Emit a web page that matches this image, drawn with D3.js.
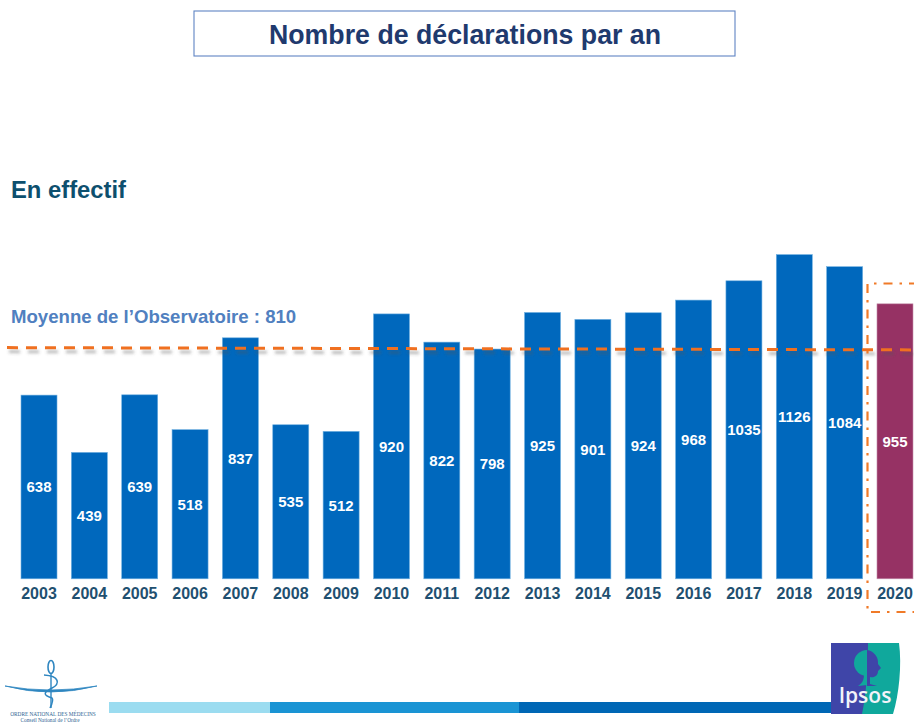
<!DOCTYPE html>
<html lang="fr">
<head>
<meta charset="utf-8">
<title>Nombre de déclarations par an</title>
<script src="https://cdn.jsdelivr.net/npm/d3@7/dist/d3.min.js"></script>
<style>
html,body{margin:0;padding:0;background:#fff;}
svg{display:block;}
text{font-family:"Liberation Sans",Arial,sans-serif;}
</style>
</head>
<body>
<svg id="chart" width="914" height="722"></svg>
<script>
const years = ["2003","2004","2005","2006","2007","2008","2009","2010","2011","2012","2013","2014","2015","2016","2017","2018","2019","2020"];
const declarations = [638,439,639,518,837,535,512,920,822,798,925,901,924,968,1035,1126,1084,955];
const highlightYear = "2020";
const averageLabel = "Moyenne de l’Observatoire : 810";
const averageLineLevels = [803,795];
const titleText = "Nombre de déclarations par an";
const subtitleText = "En effectif";

const svg = d3.select("#chart");
const x = d3.scaleBand().domain(years).range([13.83,920.17]).paddingInner(0.285).paddingOuter(0.1425);
const y = d3.scaleLinear().domain([0,1126]).range([578.8,254.6]);

const defs = svg.append("defs");
defs.append("filter").attr("id","blur").attr("x","-5%").attr("y","-400%").attr("width","110%").attr("height","900%")
  .append("feGaussianBlur").attr("stdDeviation",1.6);

// Title
svg.append("rect").attr("x",194).attr("y",11).attr("width",541).attr("height",45)
  .attr("fill","#fff").attr("stroke","#5f84c4").attr("stroke-width",1.1);
svg.append("text").attr("x",465).attr("y",44).attr("text-anchor","middle")
  .attr("font-size",28).attr("font-weight",700).attr("fill","#1f3a6e")
  .attr("textLength",392).attr("lengthAdjust","spacingAndGlyphs").text(titleText);
svg.append("text").attr("x",11).attr("y",198).attr("font-size",23.8).attr("font-weight",700)
  .attr("fill","#0d4f6e").text(subtitleText);

// Bars
const bars = svg.append("g");
bars.selectAll("rect").data(years).join("rect")
  .attr("x",d=>x(d)).attr("width",x.bandwidth())
  .attr("y",(d,i)=>y(declarations[i]))
  .attr("height",(d,i)=>y(0)-y(declarations[i]))
  .attr("fill",d=>d===highlightYear?"#963264":"#0068bd")
  .attr("stroke",d=>d===highlightYear?"#c48fab":"#6fb0e0").attr("stroke-width",0.6);

// Value labels
svg.append("g").selectAll("text").data(years).join("text")
  .attr("x",d=>x(d)+x.bandwidth()/2)
  .attr("y",(d,i)=>(y(declarations[i])+y(0))/2+5.5)
  .attr("text-anchor","middle").attr("font-size",15).attr("font-weight",700).attr("fill","#fff")
  .text((d,i)=>declarations[i]);

// Year axis
const axis = d3.axisBottom(x).tickSize(0).tickPadding(0);
const axisG = svg.append("g").attr("transform","translate(0,586)").call(axis);
axisG.select(".domain").remove();
axisG.selectAll("text").attr("font-size",16).attr("font-weight",700).attr("fill","#1f5070")
  .attr("font-family",'"Liberation Sans",Arial,sans-serif').attr("dy","0.82em");

// Average line
const lineXs = [7,914];
const avgLine = d3.line().x((d,i)=>lineXs[i]).y(d=>y(d));
svg.append("path").attr("d",avgLine(averageLineLevels)).attr("transform","translate(2,4)")
  .attr("fill","none").attr("stroke","#555").attr("stroke-opacity",0.4).attr("stroke-width",3)
  .attr("stroke-dasharray","11 8").attr("filter","url(#blur)");
svg.append("path").attr("d",avgLine(averageLineLevels))
  .attr("fill","none").attr("stroke","#f07020").attr("stroke-width",3).attr("stroke-dasharray","11 8");
svg.append("text").attr("x",11).attr("y",323).attr("font-size",18.6).attr("font-weight",700)
  .attr("fill","#5080c0").text(averageLabel);

// Dash-dot frame round 2020
svg.append("path").attr("d","M918,283.5H867.5V612H918")
  .attr("fill","none").attr("stroke","#f07a28").attr("stroke-width",2.2).attr("stroke-dasharray","9 7 2.5 7");

// Bottom ribbon
const ribbon = [[109,270,"#9bdcf0"],[270,519,"#1a94d4"],[519,832,"#0067b5"]];
svg.append("g").selectAll("rect").data(ribbon).join("rect")
  .attr("x",d=>d[0]).attr("y",702).attr("width",d=>d[1]-d[0]).attr("height",11).attr("fill",d=>d[2]);

// Ordre logo
const ordre = svg.append("g");
ordre.append("path").attr("d","M5,686 Q50,698 97,686 Q50,694 5,686Z").attr("fill","#2f86c0").attr("stroke","#2f86c0").attr("stroke-width",0.8);
ordre.append("ellipse").attr("cx",51).attr("cy",667).attr("rx",3).attr("ry",6.5).attr("fill","none").attr("stroke","#2f86c0").attr("stroke-width",1.6);
ordre.append("path").attr("d","M51,673V708").attr("stroke","#2f86c0").attr("stroke-width",1.4);
ordre.append("path").attr("d","M44,675C60,676 60,684 52,688C44,692 42,695 52,698C54,700 52,704 50,708").attr("fill","none").attr("stroke","#2f86c0").attr("stroke-width",1.5);
ordre.append("text").attr("x",53).attr("y",715.5).attr("text-anchor","middle").attr("font-size",5.3)
  .attr("style","font-family:'Liberation Serif',serif").attr("fill","#2c5f92").text("ORDRE NATIONAL DES MÉDECINS");
ordre.append("text").attr("x",50).attr("y",721.5).attr("text-anchor","middle").attr("font-size",5.3)
  .attr("style","font-family:'Liberation Serif',serif").attr("fill","#2c5f92").text("Conseil National de l’Ordre");

// Ipsos logo
const ipsos = svg.append("g");
ipsos.append("path").attr("d","M831,643H868V714H831Z").attr("fill","#3f45a8");
ipsos.append("path").attr("d","M868,643H899C902,665 899,695 893,714H862C866,695 868,670 868,643Z").attr("fill","#10a89c");
ipsos.append("circle").attr("cx",867).attr("cy",663).attr("r",13).attr("fill","#10a89c");
ipsos.append("path").attr("d","M867,650A13,13 0 0 1 878,664L881,668L878,671C878,676 874,678 870,677L870,684L877,686H867Z").attr("fill","#3f45a8");
ipsos.append("path").attr("d","M867,674V685L858,686C863,683 864,679 864,674Z").attr("fill","#10a89c");
ipsos.append("text").attr("x",865).attr("y",703).attr("text-anchor","middle").attr("font-size",21)
  .attr("style","font-family:'Open Sans',sans-serif;font-weight:600").attr("fill","#f2f4fa").text("Ipsos");
</script>
</body>
</html>
